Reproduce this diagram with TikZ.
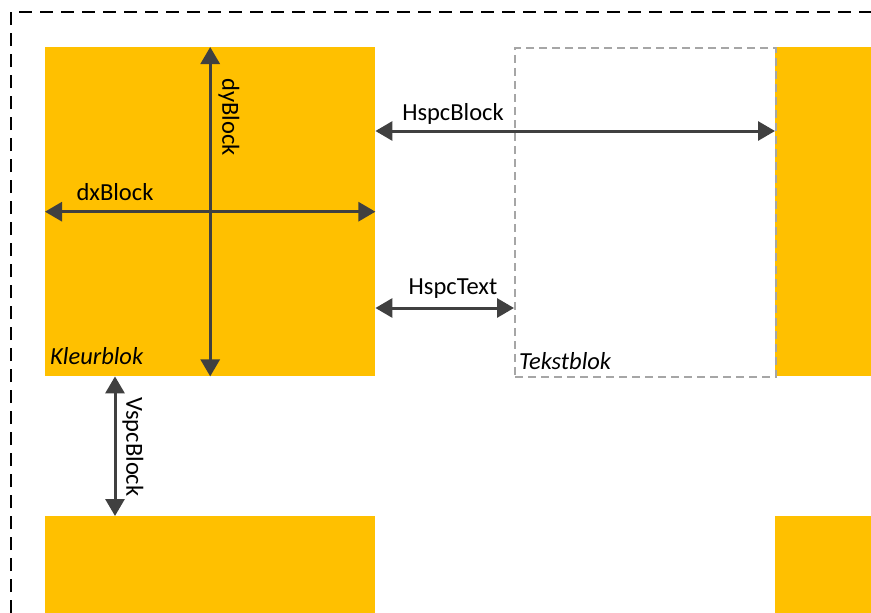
\documentclass[tikz,border=0pt]{standalone}
\usepackage{fontspec}
\setmainfont{Carlito}
\usetikzlibrary{arrows.meta,positioning,calc}
\definecolor{kleur}{HTML}{FFC000}
\definecolor{pijl}{HTML}{404040}
\tikzset{
  blok/.style={fill=kleur, draw=none, inner sep=0pt, anchor=north west},
  maat/.style={{Triangle[length=17pt,width=19pt]}-{Triangle[length=17pt,width=19pt]}, line width=3pt, draw=pijl},
  lbl/.style={font=\fontsize{24.5}{27}\selectfont, inner sep=0pt},
}
\begin{document}
\begin{tikzpicture}[x=1pt,y=-1pt]
\useasboundingbox (0,0) rectangle (871,613);
\clip (0,0) rectangle (871,613);
% kleurblokken
\node[blok, minimum width=330pt, minimum height=329pt] (kb) at (45,47) {};
\node[blok, minimum width=96pt, minimum height=329pt] (kbr) at (775,47) {};
\node[blok, minimum width=330pt, minimum height=97pt] (kbo) at (45,516) {};
\node[blok, minimum width=96pt, minimum height=97pt] (kbor) at (775,516) {};
% tekstblok
\node[draw=black!35, dashed, line width=2pt, dash pattern=on 8pt off 5pt, inner sep=0pt, anchor=north west,
  minimum width=261pt, minimum height=329pt] (tb) at (514,47) {};
% kader
\draw[line width=2.5pt, dash pattern=on 13pt off 8pt] (11,613) -- (11,12) -- (871,12);
% maten
\draw[maat] (kb.north) -- (kb.south);
\draw[maat] (kb.west) -- (kb.east);
\coordinate (hb1) at ($(kb.north east)+(0,84)$);
\coordinate (hb2) at (hb1 -| kbr.west);
\draw[maat] (hb1) -- (hb2);
\coordinate (ht1) at ($(kb.north east)+(0,261)$);
\coordinate (ht2) at (ht1 -| tb.west);
\draw[maat] (ht1) -- (ht2);
\coordinate (vb1) at ($(kb.south west)+(70,0)$);
\coordinate (vb2) at (vb1 |- kbo.north);
\draw[maat] (vb1) -- (vb2);
% teksten
\node[lbl] (dy) at (229,117) [rotate=-90] {dyBlock};
\node[lbl] (dx) at (115,192) {dxBlock};
\node[lbl] (hbt) at (453,114) {HspcBlock};
\node[lbl] (htt) at (453,289) {HspcText};
\node[lbl] (vbt) at (133,447) [rotate=-90] {VspcBlock};
\node[lbl, font=\fontsize{24.5}{27}\selectfont\itshape, anchor=west] (kl) at (50,356) {Kleurblok};
\node[lbl, font=\fontsize{24.5}{27}\selectfont\itshape, anchor=west] (tk) at (519,361) {Tekstblok};
\end{tikzpicture}
\end{document}
